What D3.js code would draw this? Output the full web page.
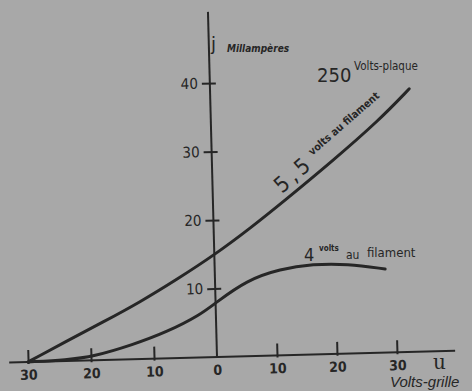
<!DOCTYPE html>
<html><head><meta charset="utf-8">
<script src="https://cdn.jsdelivr.net/npm/d3@7"></script>
<style>html,body{margin:0;padding:0;background:#a8a8a8;overflow:hidden}</style>
</head><body>
<script>
// Data (grid volts u, plate current j in mA)
const uTicks = [-30, -20, -10, 0, 10, 20, 30];
const jTicks = [10, 20, 30, 40];
const u55 = [-30, -28.6, -24, -18, -12, -6, 0, 6, 12, 20, 28, 33.2];
const j55 = [0, 0.65, 2.8, 5.5, 8.3, 11.5, 14.9, 18.6, 22.6, 28.1, 33.9, 38.4];
const u4 = [-30, -23.8, -19.7, -13.3, -7.8, -2.5, 0, 5.3, 10.9, 16.4, 22.1, 28.4];
const j4 = [0, 0.15, 0.5, 2.1, 3.85, 6.2, 7.9, 11.1, 12.6, 13.2, 13.1, 12.2];

const W = 472, H = 391;
const ink = "#262626";
const cond = "'DejaVu Sans Condensed','Liberation Sans Narrow','DejaVu Sans',sans-serif";

const svg = d3.select("body").append("svg").attr("width", W).attr("height", H)
  .style("display", "block").style("background", "#a8a8a8");

const x = d3.scaleLinear().domain([-30, 0, 30]).range([-189, 0, 180]);
const y = d3.scaleLinear().domain([0, 40]).range([0, -274]);

const g = svg.append("g").attr("transform", "translate(217,357) rotate(-1.5)");

// axis lines
g.append("line").attr("x1", x(-33)).attr("x2", x(39.7)).attr("y1", y(0)).attr("y2", y(0))
  .attr("stroke", ink).attr("stroke-width", 2);
g.append("line").attr("x1", 0).attr("x2", 0).attr("y1", y(0)).attr("y2", y(50.4))
  .attr("stroke", ink).attr("stroke-width", 2);

// x axis ticks
const xa = g.append("g").call(d3.axisBottom(x).tickValues(uTicks).tickSizeInner(-12).tickSizeOuter(0)
  .tickPadding(8).tickFormat(d => Math.abs(d)));
xa.select(".domain").remove();
xa.selectAll(".tick line").attr("stroke", ink).attr("stroke-width", 2).attr("y1", 2);
xa.selectAll(".tick").filter(d => d === 0).select("line").remove();
xa.selectAll(".tick text").attr("fill", ink).style("font", `bold 14px ${cond}`);

// y axis ticks
const ya = g.append("g").call(d3.axisLeft(y).tickValues(jTicks).tickSizeInner(8).tickSizeOuter(0)
  .tickPadding(4).tickFormat(d => d));
ya.select(".domain").remove();
ya.selectAll(".tick line").attr("stroke", ink).attr("stroke-width", 2).attr("x1", 6);
ya.selectAll(".tick text").attr("fill", ink).style("font", `15px ${cond}`);

// curves
const line = d3.line().x(d => x(d[0])).y(d => y(d[1])).curve(d3.curveBasis);
g.append("path").datum(u55.map((u, i) => [u, j55[i]])).attr("d", line)
  .attr("fill", "none").attr("stroke", ink).attr("stroke-width", 3).attr("stroke-linecap", "round");
g.append("path").datum(u4.map((u, i) => [u, j4[i]])).attr("d", line)
  .attr("fill", "none").attr("stroke", ink).attr("stroke-width", 3).attr("stroke-linecap", "round");

// labels
const T = (xx, yy, txt, font) =>
  svg.append("text").attr("x", xx).attr("y", yy).text(txt).attr("fill", ink).style("font", font);
T(433, 369, "u", "20px 'DejaVu Serif','Liberation Serif',serif");
T(390, 387, "Volts-grille", "italic 15px 'Liberation Sans','DejaVu Sans',sans-serif");
T(211, 50, "j", "18px 'DejaVu Sans',sans-serif");
T(227, 52, "Millampères", "italic bold 10px 'DejaVu Sans Condensed','DejaVu Sans',sans-serif");
T(317, 82, "250", `20px ${cond}`);
T(354, 70, "Volts-plaque", "11.5px 'DejaVu Sans Condensed','DejaVu Sans',sans-serif");

// 5,5 volts au filament (along curve)
const lg = svg.append("g").attr("transform", "translate(282,194) rotate(-41)");
lg.append("text").attr("x", 0).attr("y", 0).text("5,5").attr("fill", ink)
  .style("font", `22px ${cond}`).style("letter-spacing", "4px");
lg.append("text").attr("x", 48).attr("y", -9).text("volts au filament").attr("fill", ink)
  .style("font", "bold 10.5px 'DejaVu Sans Condensed','DejaVu Sans',sans-serif");

// 4 volts au filament
T(304, 261, "4", `18px ${cond}`);
T(319, 251, "volts", "bold 8px 'DejaVu Sans Condensed','DejaVu Sans',sans-serif");
T(346, 259, "au", "12px 'DejaVu Sans Condensed','DejaVu Sans',sans-serif");
T(367, 257, "filament", "13px 'DejaVu Sans Condensed','DejaVu Sans',sans-serif");
</script>
</body></html>
